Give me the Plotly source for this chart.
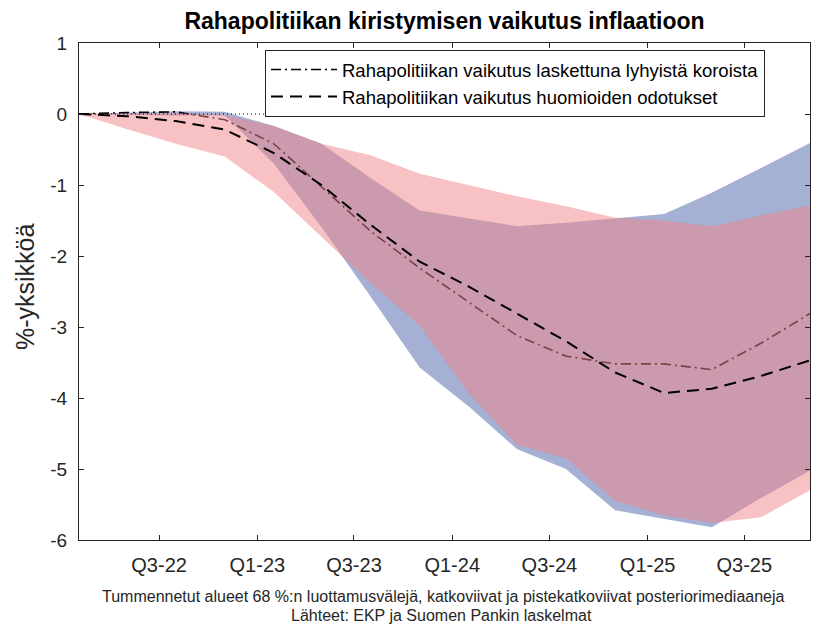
import plotly.graph_objects as go

# Quarterly data points (placed at the middle month of each quarter)
dates = ["2022-02-01", "2022-05-01", "2022-08-01", "2022-11-01",
         "2023-02-01", "2023-05-01", "2023-08-01", "2023-11-01",
         "2024-02-01", "2024-05-01", "2024-08-01", "2024-11-01",
         "2025-02-01", "2025-05-01", "2025-08-01", "2025-11-01"]

short_rate_median = [0, 0.02, 0.03, -0.08, -0.42, -1.03, -1.65, -2.17, -2.65, -3.12,
                     -3.41, -3.52, -3.52, -3.60, -3.23, -2.81]
expectations_median = [0, -0.03, -0.10, -0.22, -0.55, -1.00, -1.56, -2.08, -2.43, -2.81,
                       -3.20, -3.64, -3.93, -3.87, -3.69, -3.47]

blue_upper = [0, 0.02, 0.04, 0.03, -0.17, -0.42, -0.90, -1.36, -1.47, -1.58,
              -1.53, -1.47, -1.41, -1.11, -0.76, -0.41]
blue_lower = [0, -0.01, -0.02, -0.02, -0.70, -1.59, -2.57, -3.57, -4.12, -4.72,
              -5.00, -5.58, -5.70, -5.82, -5.41, -5.02]
pink_upper = [0, 0.00, 0.01, -0.01, -0.17, -0.42, -0.58, -0.84, -1.00, -1.16,
              -1.30, -1.46, -1.50, -1.58, -1.43, -1.29]
pink_lower = [0, -0.21, -0.42, -0.60, -1.10, -1.73, -2.38, -2.98, -3.94, -4.66,
              -4.85, -5.45, -5.65, -5.76, -5.68, -5.30]

zero_ref = [0] * (len(dates) - 1)

tick_dates = ["2022-07-01", "2023-01-01", "2023-07-01", "2024-01-01",
              "2024-07-01", "2025-01-01", "2025-07-01"]
tick_labels = ["Q3-22", "Q1-23", "Q3-23", "Q1-24", "Q3-24", "Q1-25", "Q3-25"]
y_ticks = [-6, -5, -4, -3, -2, -1, 0, 1]

legend_names = ["Rahapolitiikan vaikutus laskettuna lyhyistä koroista",
                "Rahapolitiikan vaikutus huomioiden odotukset"]

FONT = "Liberation Sans, Arial, Helvetica, sans-serif"
AX = "#262626"
W, H = 828, 626
L, R, T, B = 79, 18, 43, 86
PH = H - T - B
PW = W - L - R

fig = go.Figure()

# blue band
fig.add_trace(go.Scatter(x=dates + dates[::-1], y=blue_upper + blue_lower[::-1],
                         fill="toself", fillcolor="rgba(73,97,169,0.5)",
                         line=dict(width=0), mode="lines", showlegend=False,
                         hoverinfo="skip"))
# dash-dot line (under the pink band)
fig.add_trace(go.Scatter(x=dates, y=short_rate_median, mode="lines",
                         name=legend_names[0], legendgroup="a",
                         line=dict(color="black", width=1.6, dash="10px,4px,2px,4px")))
# pink band
fig.add_trace(go.Scatter(x=dates + dates[::-1], y=pink_upper + pink_lower[::-1],
                         fill="toself", fillcolor="rgba(241,131,135,0.5)",
                         line=dict(width=0), mode="lines", showlegend=False,
                         hoverinfo="skip"))
# dashed line
fig.add_trace(go.Scatter(x=dates, y=expectations_median, mode="lines",
                         name=legend_names[1], legendgroup="b",
                         line=dict(color="black", width=2, dash="12px,7px")))
# dotted zero reference
fig.add_trace(go.Scatter(x=dates[:-1], y=zero_ref, mode="lines", showlegend=False,
                         hoverinfo="skip",
                         line=dict(color="black", width=1, dash="1px,3px")))

fig.update_layout(
    width=W, height=H,
    margin=dict(l=L, r=R, t=T, b=B, autoexpand=False),
    paper_bgcolor="white", plot_bgcolor="white",
    font=dict(family=FONT, color=AX),
    title=dict(text="<b>Rahapolitiikan kiristymisen vaikutus inflaatioon</b>",
               x=0.5, xref="paper", y=1 - 21 / H, yref="container",
               xanchor="center", yanchor="middle",
               font=dict(size=23, color="black", family=FONT)),
    legend=dict(x=(765 - L) / PW, y=(H - B - 50) / PH, xanchor="right", yanchor="top",
                bgcolor="white", bordercolor=AX, borderwidth=1,
                font=dict(size=18.5, color="black", family=FONT),
                itemwidth=66, traceorder="grouped", tracegroupgap=0),
    showlegend=True,
)

fig.update_xaxes(type="date", range=[dates[0], dates[-1]], automargin=False,
                 tickmode="array", tickvals=tick_dates, ticktext=tick_labels,
                 ticks="inside", ticklen=5, tickcolor=AX, showline=True,
                 linecolor=AX, linewidth=1, mirror="ticks", showgrid=False,
                 zeroline=False, tickfont=dict(size=20, color=AX),
                 ticklabelstandoff=7)
fig.update_yaxes(range=[-6, 1], tickmode="array", tickvals=y_ticks, automargin=False,
                 ticktext=[str(v) for v in y_ticks],
                 ticks="inside", ticklen=5, tickcolor=AX, showline=True,
                 linecolor=AX, linewidth=1, mirror="ticks", showgrid=False,
                 zeroline=False, tickfont=dict(size=19, color=AX),
                 ticklabelstandoff=7)

# y-axis title
fig.add_annotation(text="%-yksikköä", textangle=-90, xref="paper", yref="paper",
                   x=(25 - L) / PW, y=(H - B - 287) / PH, xanchor="center", yanchor="middle",
                   showarrow=False, font=dict(size=25, color=AX, family=FONT))
# footnotes
fig.add_annotation(text="Tummennetut alueet 68 %:n luottamusvälejä, katkoviivat ja pistekatkoviivat posteriorimediaaneja",
                   xref="paper", yref="paper", x=(443 - L) / PW, y=(H - B - 596) / PH,
                   xanchor="center", yanchor="middle", showarrow=False,
                   font=dict(size=16, color=AX, family=FONT))
fig.add_annotation(text="Lähteet: EKP ja Suomen Pankin laskelmat",
                   xref="paper", yref="paper", x=(441 - L) / PW, y=(H - B - 615) / PH,
                   xanchor="center", yanchor="middle", showarrow=False,
                   font=dict(size=16, color=AX, family=FONT))

fig.write_html("out.html", config={"displayModeBar": False},
               post_script="document.body.style.margin='0';document.body.style.overflow='hidden';")
